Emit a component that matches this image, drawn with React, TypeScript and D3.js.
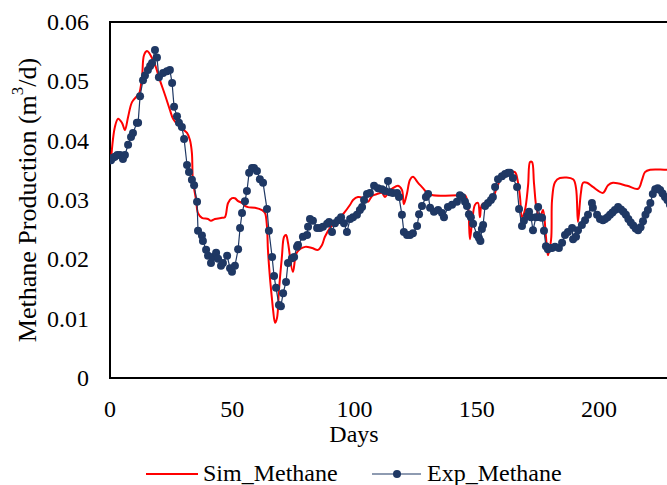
import { useMemo } from 'react';
import * as d3 from 'd3';

const WIDTH = 667;
const HEIGHT = 485;
const MARGIN = { top: 22, left: 110, bottom: 107 };
const PX_PER_DAY = 2.445;
const X_MAX = 250;

const Y_TICKS = [0, 0.01, 0.02, 0.03, 0.04, 0.05, 0.06];
const X_TICKS = [0, 50, 100, 150, 200];

// simulated methane (smooth red line)
const simDays = [
  0.4, 2.0, 3.3, 4.9, 6.1, 7.4, 9.0, 11.0, 11.9, 13.1, 13.9, 15.1, 16.0, 17.2,
  18.4, 20.4, 22.5, 24.5, 25.8, 28.6, 31.5, 32.7, 33.5, 33.9, 35.2, 36.0, 37.6,
  40.1, 41.3, 42.9, 45.8, 47.0, 48.3, 49.9, 51.1, 52.4, 54.0, 55.2, 56.4, 59.3,
  62.2, 63.4, 64.2, 64.6, 65.4, 66.3, 66.7, 67.5, 68.3, 69.1, 70.3, 71.2, 72.0,
  72.8, 74.8, 76.5, 79.8, 82.6, 85.1, 86.7, 87.9, 90.0, 92.8, 95.3, 98.2, 99.4,
  101.4, 103.5, 105.5, 107.2, 109.2, 111.2, 112.5, 113.7, 115.7, 117.8, 119.4,
  120.2, 121.5, 122.7, 123.9, 126.0, 128.0, 129.7, 132.1, 142.3, 145.2, 146.4,
  147.2, 148.1, 149.3, 150.5, 151.3, 152.1, 154.2, 156.2, 158.3, 160.7, 162.8,
  165.6, 166.9, 167.7, 168.5, 169.7, 171.0, 171.8, 172.6, 173.4, 174.6, 175.9,
  177.1, 178.3, 179.1, 180.4, 180.8, 182.0, 184.0, 189.4, 190.6, 191.4, 192.6,
  193.5, 195.1, 197.5, 201.6, 203.7, 205.7, 211.5, 216.0, 217.6, 218.8, 220.9,
  227.8, 240.0,
];
const simValues = [
  0.0367, 0.0423, 0.0437, 0.043, 0.0418, 0.044, 0.0465, 0.0475, 0.0479, 0.0507,
  0.0544, 0.0551, 0.0548, 0.0539, 0.0528, 0.0502, 0.0477, 0.0452, 0.0437,
  0.0423, 0.0413, 0.0401, 0.0379, 0.0334, 0.03, 0.0278, 0.027, 0.0268, 0.0265,
  0.0268, 0.027, 0.0271, 0.0295, 0.0303, 0.0303, 0.0298, 0.0295, 0.029, 0.0288,
  0.0287, 0.0283, 0.0278, 0.0255, 0.0216, 0.017, 0.0131, 0.0115, 0.0093,
  0.0101, 0.0148, 0.0204, 0.0238, 0.0241, 0.0228, 0.0179, 0.0212, 0.0221,
  0.0219, 0.0216, 0.0224, 0.0238, 0.0253, 0.0265, 0.0276, 0.0292, 0.03, 0.0305,
  0.0303, 0.0297, 0.0307, 0.031, 0.0312, 0.0305, 0.0313, 0.032, 0.0324, 0.0317,
  0.0293, 0.0312, 0.0334, 0.0339, 0.0329, 0.032, 0.0312, 0.0308, 0.0308,
  0.0308, 0.0292, 0.0234, 0.0263, 0.0292, 0.0295, 0.0271, 0.0292, 0.0297, 0.03,
  0.0322, 0.0342, 0.0347, 0.0347, 0.0329, 0.0305, 0.0271, 0.0283, 0.0325,
  0.0364, 0.0364, 0.0329, 0.0283, 0.0271, 0.0283, 0.0238, 0.0207, 0.0233, 0.03,
  0.033, 0.0337, 0.0335, 0.032, 0.0263, 0.0312, 0.0329, 0.0329, 0.0322, 0.0312,
  0.0325, 0.0329, 0.0324, 0.0319, 0.0334, 0.0347, 0.0351, 0.0351, 0.0351,
];

// experimental methane (navy markers)
const expDays = [
  0.4, 1.2, 2.0, 3.0, 4.1, 5.3, 6.1, 7.4, 8.6, 9.4, 11.0, 11.5, 12.3, 13.5,
  14.3, 15.5, 16.4, 17.2, 18.4, 19.2, 20.0, 21.7, 23.3, 24.5, 25.4, 26.2, 27.4,
  28.2, 29.4, 30.3, 31.5, 32.3, 33.5, 34.4, 35.6, 36.0, 37.6, 38.0, 39.3, 40.1,
  41.3, 42.1, 43.4, 44.2, 45.4, 46.2, 47.9, 49.1, 49.9, 51.1, 52.4, 53.2, 54.0,
  55.2, 56.0, 56.9, 58.1, 58.9, 60.1, 61.3, 62.6, 64.2, 65.0, 66.3, 67.1, 67.9,
  69.1, 69.9, 70.8, 72.0, 72.8, 74.4, 75.3, 76.5, 76.9, 78.9, 80.6, 81.0, 81.8,
  83.0, 84.7, 85.9, 87.1, 88.8, 89.6, 90.8, 92.0, 93.3, 94.5, 95.7, 96.9, 98.2,
  99.4, 101.0, 102.2, 103.1, 103.9, 105.1, 106.3, 108.0, 109.6, 111.2, 112.5,
  113.7, 114.5, 115.7, 117.4, 118.2, 119.4, 120.2, 121.5, 122.7, 123.9, 125.6,
  126.4, 127.6, 129.2, 130.1, 130.9, 132.5, 134.2, 135.8, 136.6, 138.2, 139.9,
  141.9, 143.1, 144.0, 145.2, 146.0, 146.8, 147.6, 148.5, 150.1, 150.9, 151.5,
  152.1, 152.6, 153.4, 154.6, 155.8, 156.6, 157.5, 158.7, 160.3, 161.6, 162.8,
  163.6, 164.8, 166.5, 167.3, 168.5, 169.3, 170.6, 171.4, 172.2, 173.0, 174.2,
  175.1, 175.9, 176.7, 177.5, 178.3, 179.1, 180.0, 180.8, 182.0, 183.6, 184.9,
  186.1, 187.3, 189.0, 189.4, 190.6, 191.4, 193.0, 194.3, 195.5, 197.1, 197.5,
  199.2, 200.4, 201.6, 202.5, 203.5, 204.5, 205.5, 206.5, 207.8, 209.0, 210.0,
  211.0, 212.0, 213.0, 214.0, 215.0, 216.0, 217.0, 218.0, 219.0, 220.0, 221.0,
  222.0, 223.0, 224.0, 225.0, 226.0, 227.0, 228.0, 229.0,
];
const expValues = [
  0.0367, 0.0371, 0.0373, 0.0376, 0.0376, 0.0369, 0.0376, 0.0393, 0.0406,
  0.0413, 0.043, 0.043, 0.0475, 0.0502, 0.051, 0.0519, 0.0526, 0.0531, 0.0553,
  0.054, 0.0507, 0.0514, 0.0517, 0.0519, 0.0497, 0.0457, 0.0441, 0.043, 0.0423,
  0.0403, 0.0359, 0.0347, 0.0334, 0.0325, 0.0297, 0.0248, 0.024, 0.0231,
  0.0216, 0.0206, 0.0194, 0.0204, 0.0211, 0.0201, 0.0189, 0.0194, 0.0206,
  0.0185, 0.0179, 0.0189, 0.0217, 0.0253, 0.0278, 0.0298, 0.0315, 0.0346,
  0.0354, 0.0354, 0.0349, 0.0335, 0.0329, 0.0285, 0.0248, 0.0204, 0.0172,
  0.0152, 0.0123, 0.0121, 0.0143, 0.0162, 0.0194, 0.0202, 0.0204, 0.0221,
  0.0224, 0.0238, 0.0241, 0.0255, 0.0268, 0.0265, 0.0253, 0.0253, 0.0255,
  0.026, 0.0263, 0.0246, 0.0261, 0.0266, 0.0271, 0.0261, 0.0246, 0.0268,
  0.0271, 0.0275, 0.0283, 0.0288, 0.03, 0.031, 0.0312, 0.0324, 0.032, 0.0318,
  0.0315, 0.0332, 0.0313, 0.0312, 0.0312, 0.0305, 0.0275, 0.0246, 0.0241,
  0.0241, 0.0244, 0.0256, 0.0276, 0.029, 0.0305, 0.031, 0.0287, 0.028, 0.0283,
  0.0278, 0.0271, 0.0288, 0.0292, 0.0297, 0.0308, 0.0305, 0.0297, 0.029,
  0.0276, 0.0271, 0.026, 0.0241, 0.0236, 0.0231, 0.0251, 0.0258, 0.029, 0.0295,
  0.03, 0.0305, 0.0322, 0.0335, 0.034, 0.0344, 0.0346, 0.0346, 0.0337, 0.0322,
  0.0285, 0.0256, 0.0265, 0.0273, 0.028, 0.0271, 0.0249, 0.0271, 0.0288,
  0.0271, 0.027, 0.0248, 0.0222, 0.0217, 0.0219, 0.0219, 0.0221, 0.0219,
  0.0228, 0.0241, 0.0246, 0.0253, 0.0234, 0.0238, 0.0249, 0.0258, 0.0266,
  0.0275, 0.0295, 0.0287, 0.0275, 0.0268, 0.0266, 0.0268, 0.0271, 0.0275,
  0.0279, 0.0283, 0.0288, 0.0284, 0.028, 0.0275, 0.0268, 0.0262, 0.0257,
  0.0252, 0.0249, 0.0254, 0.0264, 0.0275, 0.0283, 0.0295, 0.031, 0.0318, 0.032,
  0.0317, 0.0311, 0.0305, 0.03, 0.0292,
];

const FONT = 'Liberation Serif, Times New Roman, serif';
const RED = '#ff0000';
const NAVY = '#1f3864';

type Pt = [number, number];

export default function App() {
  const plotBottom = HEIGHT - MARGIN.bottom;
  const x = useMemo(
    () =>
      d3
        .scaleLinear()
        .domain([0, X_MAX])
        .range([MARGIN.left, MARGIN.left + X_MAX * PX_PER_DAY]),
    []
  );
  const y = useMemo(
    () => d3.scaleLinear().domain([0, 0.06]).range([plotBottom, MARGIN.top]),
    [plotBottom]
  );

  const sim: Pt[] = simDays.map((d, i) => [d, simValues[i]]);
  const exp: Pt[] = expDays.map((d, i) => [d, expValues[i]]);

  const simPath =
    d3
      .line<Pt>()
      .x((d) => x(d[0]))
      .y((d) => y(d[1]))
      .curve(d3.curveCatmullRom.alpha(0.5))(sim) || '';
  const expPath =
    d3
      .line<Pt>()
      .x((d) => x(d[0]))
      .y((d) => y(d[1]))(exp) || '';

  const x0 = x(0);
  const x1 = x(X_MAX);
  const txt = { fontFamily: FONT, fill: '#000' };

  return (
    <svg
      width={WIDTH}
      height={HEIGHT}
      style={{ position: 'absolute', left: 0, top: 0, background: '#fff' }}
    >
      <defs>
        <clipPath id='plot-clip'>
          <rect x={x0} y={MARGIN.top - 6} width={x1 - x0} height={plotBottom - MARGIN.top + 6} />
        </clipPath>
      </defs>

      {/* plot frame */}
      <rect
        x={x0}
        y={MARGIN.top}
        width={x1 - x0}
        height={plotBottom - MARGIN.top}
        fill='none'
        stroke='#000'
        strokeWidth={2}
      />

      {/* y tick labels */}
      {Y_TICKS.map((t) => (
        <text
          key={t}
          x={x0 - 21}
          y={y(t)}
          textAnchor='end'
          dominantBaseline='central'
          fontSize={24}
          style={txt}
        >
          {t === 0 ? '0' : t.toFixed(2)}
        </text>
      ))}

      {/* x tick labels */}
      {X_TICKS.map((t) => (
        <text
          key={t}
          x={x(t)}
          y={plotBottom + 31}
          textAnchor='middle'
          dominantBaseline='central'
          fontSize={24}
          style={txt}
        >
          {t}
        </text>
      ))}

      <text
        x={354}
        y={plotBottom + 56}
        textAnchor='middle'
        dominantBaseline='central'
        fontSize={24}
        style={txt}
      >
        Days
      </text>

      <text
        transform={`translate(27, ${(MARGIN.top + plotBottom) / 2}) rotate(-90)`}
        textAnchor='middle'
        dominantBaseline='central'
        fontSize={26}
        style={txt}
      >
        Methane Production (m
        <tspan baselineShift='super' fontSize={17}>
          3
        </tspan>
        /d)
      </text>

      <g clipPath='url(#plot-clip)'>
        <path d={simPath} fill='none' stroke={RED} strokeWidth={2} />
        <path d={expPath} fill='none' stroke={NAVY} strokeWidth={1.2} />
        {exp.map((d, i) => (
          <circle key={i} cx={x(d[0])} cy={y(d[1])} r={4} fill={NAVY} />
        ))}
      </g>

      {/* legend */}
      <line x1={146} x2={198} y1={474} y2={474} stroke={RED} strokeWidth={2} />
      <text x={203} y={473} dominantBaseline='central' fontSize={24} style={txt}>
        Sim_Methane
      </text>
      <line x1={372} x2={421} y1={474} y2={474} stroke={NAVY} strokeWidth={1.2} />
      <circle cx={397} cy={474} r={4} fill={NAVY} />
      <text x={427} y={473} dominantBaseline='central' fontSize={24} style={txt}>
        Exp_Methane
      </text>
    </svg>
  );
}
